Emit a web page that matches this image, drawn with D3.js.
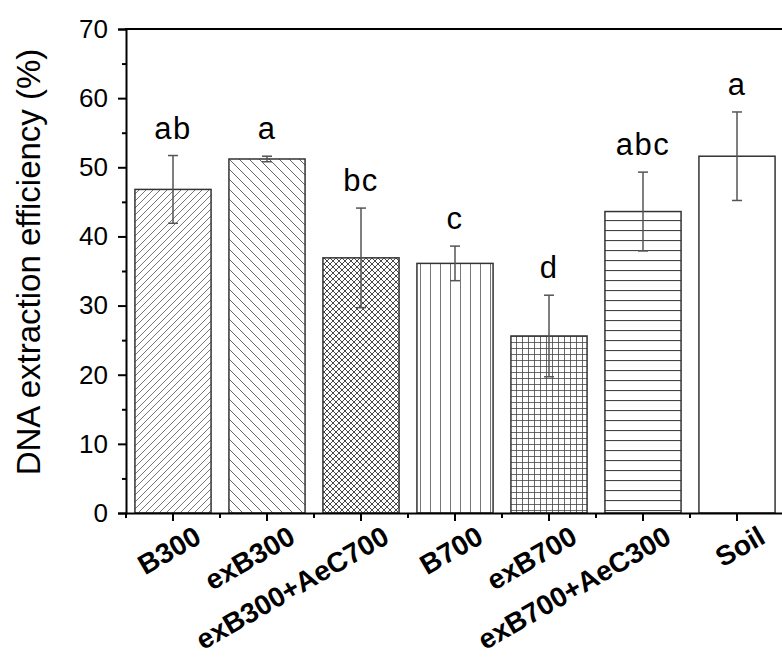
<!DOCTYPE html>
<html>
<head>
<meta charset="utf-8">
<script src="https://d3js.org/d3.v7.min.js"></script>
<style>
  body { margin: 0; background: #fff; }
  text { font-family: Arial, "Liberation Sans", sans-serif; }
</style>
</head>
<body>
<script>
// ----------------------------------- DATA --------------------------------------------
var categories = ['B300', 'exB300', 'exB300+AeC700', 'B700', 'exB700', 'exB700+AeC300', 'Soil']
var means = [46.8, 51.2, 36.9, 36.1, 25.6, 43.6, 51.6]
var errors = [4.9, 0.4, 7.2, 2.5, 5.9, 5.7, 6.4]
var letters = ['ab', 'a', 'bc', 'c', 'd', 'abc', 'a']
var yTicks = [0, 10, 20, 30, 40, 50, 60, 70]
var yMinorTicks = [5, 15, 25, 35, 45, 55, 65]
var patternIds = ['hatchUp', 'hatchDown', 'cross', 'vert', 'grid', 'horiz', 'none']

// ----------------------------------- SVG --------------------------------------------
var width = 782
var height = 657

var svg = d3.select('body')
      .append('svg')
      .attr('width', width)
      .attr('height', height)

var plotLeft = 126, plotRight = 784, plotTop = 29, plotBottom = 513

var x = d3.scaleBand()
      .domain(categories)
      .range([plotLeft, plotRight])
      .paddingInner(0.19)
      .paddingOuter(0.095)

var y = d3.scaleLinear()
      .domain([0, 70])
      .range([plotBottom, plotTop])

// ----------------------------------- PATTERNS --------------------------------------------
var defs = svg.append('defs')

function linePattern(id, size, color, lines, sw) {
  var p = defs.append('pattern')
      .attr('id', id)
      .attr('patternUnits', 'userSpaceOnUse')
      .attr('width', size)
      .attr('height', size)
  p.append('rect').attr('width', size).attr('height', size).attr('fill', '#fff')
  lines.forEach(function(l){
    p.append('line')
      .attr('x1', l[0]).attr('y1', l[1]).attr('x2', l[2]).attr('y2', l[3])
      .attr('stroke', color)
      .attr('stroke-width', sw)
  })
}

linePattern('hatchUp', 7, '#777', [[0, 7, 7, 0], [-1, 1, 1, -1], [6, 8, 8, 6]], 1)
linePattern('hatchDown', 10, '#666', [[0, 0, 10, 10], [-1, 9, 1, 11], [9, -1, 11, 1]], 1)
linePattern('cross', 6, '#333', [[0, 0, 6, 6], [0, 6, 6, 0]], 0.9)
linePattern('vert', 10, '#777', [[0.5, 0, 0.5, 10]], 1)
linePattern('grid', 6, '#444', [[0.5, 0, 0.5, 6], [0, 0.5, 6, 0.5]], 0.8)
linePattern('horiz', 10, '#444', [[0, 0.5, 10, 0.5]], 1.2)

// ----------------------------------- BARS --------------------------------------------
var bars = svg.selectAll('.bar')
      .data(categories)
      .enter()
      .append('rect')
      .attr('class', 'bar')
      .attr('x', function(d){ return x(d) })
      .attr('width', x.bandwidth())
      .attr('y', function(d, i){ return y(means[i]) })
      .attr('height', function(d, i){ return y(0) - y(means[i]) })
      .attr('fill', function(d, i){ return patternIds[i] === 'none' ? '#fff' : 'url(#' + patternIds[i] + ')' })
      .attr('stroke', '#333')
      .attr('stroke-width', 1.5)

// ----------------------------------- ERROR BARS --------------------------------------------
var err = svg.selectAll('.err')
      .data(categories)
      .enter()
      .append('g')
      .attr('class', 'err')
      .attr('stroke', '#555')
      .attr('stroke-width', 1.5)

err.append('line')
  .attr('x1', function(d){ return x(d) + x.bandwidth() / 2 })
  .attr('x2', function(d){ return x(d) + x.bandwidth() / 2 })
  .attr('y1', function(d, i){ return y(means[i] - errors[i]) })
  .attr('y2', function(d, i){ return y(means[i] + errors[i]) })

err.append('line')
  .attr('x1', function(d){ return x(d) + x.bandwidth() / 2 - 5 })
  .attr('x2', function(d){ return x(d) + x.bandwidth() / 2 + 5 })
  .attr('y1', function(d, i){ return y(means[i] + errors[i]) })
  .attr('y2', function(d, i){ return y(means[i] + errors[i]) })

err.append('line')
  .attr('x1', function(d){ return x(d) + x.bandwidth() / 2 - 5 })
  .attr('x2', function(d){ return x(d) + x.bandwidth() / 2 + 5 })
  .attr('y1', function(d, i){ return y(means[i] - errors[i]) })
  .attr('y2', function(d, i){ return y(means[i] - errors[i]) })

// ----------------------------------- LETTERS --------------------------------------------
svg.selectAll('.letter')
  .data(categories)
  .enter()
  .append('text')
  .attr('class', 'letter')
  .attr('x', function(d){ return x(d) + x.bandwidth() / 2 })
  .attr('y', function(d, i){ return y(means[i] + errors[i]) - 17 })
  .attr('text-anchor', 'middle')
  .attr('font-size', 31)
  .attr('letter-spacing', 1.5)
  .text(function(d, i){ return letters[i] })

// ----------------------------------- AXES --------------------------------------------
var yAxis = svg.append('g')
      .attr('transform', 'translate(' + plotLeft + ',0)')
      .call(d3.axisLeft(y).tickValues(yTicks).tickSize(8).tickPadding(10))
yAxis.selectAll('text').attr('font-size', 26).attr('fill', '#000')
yAxis.select('.domain').attr('stroke-width', 2)
yAxis.selectAll('.tick line').attr('stroke-width', 2)

svg.append('g')
  .attr('transform', 'translate(' + plotLeft + ',0)')
  .call(d3.axisLeft(y).tickValues(yMinorTicks).tickSize(4).tickFormat(''))
  .call(function(g){ g.select('.domain').remove() })
  .selectAll('.tick line').attr('stroke-width', 2)

var xAxis = svg.append('g')
      .attr('transform', 'translate(0,' + plotBottom + ')')
      .call(d3.axisBottom(x).tickSize(8).tickPadding(6).tickSizeOuter(0))
xAxis.select('.domain').attr('stroke-width', 2)
xAxis.selectAll('.tick line').attr('stroke-width', 2)
xAxis.selectAll('text')
  .attr('font-size', 28)
  .attr('font-weight', 'bold')
  .attr('fill', '#000')
  .attr('text-anchor', 'end')
  .attr('y', 0)
  .attr('dy', null)
  .attr('transform', 'translate(30,29) rotate(-30)')

// minor ticks at band edges
var edges = categories.map(function(d){ return x(d) - x.step() * x.paddingInner() / 2 })
svg.append('g')
  .selectAll('line')
  .data(edges)
  .enter()
  .append('line')
  .attr('x1', function(d){ return d }).attr('x2', function(d){ return d })
  .attr('y1', plotBottom).attr('y2', plotBottom + 5)
  .attr('stroke', '#000').attr('stroke-width', 2)

// top frame
svg.append('line')
  .attr('x1', plotLeft - 1).attr('x2', width)
  .attr('y1', y(70)).attr('y2', y(70))
  .attr('stroke', '#000').attr('stroke-width', 2)

// ----------------------------------- TITLE --------------------------------------------
svg.append('text')
  .attr('transform', 'translate(40,262) rotate(-90)')
  .attr('text-anchor', 'middle')
  .attr('font-size', 33)
  .text('DNA extraction efficiency (%)')
</script>
</body>
</html>
